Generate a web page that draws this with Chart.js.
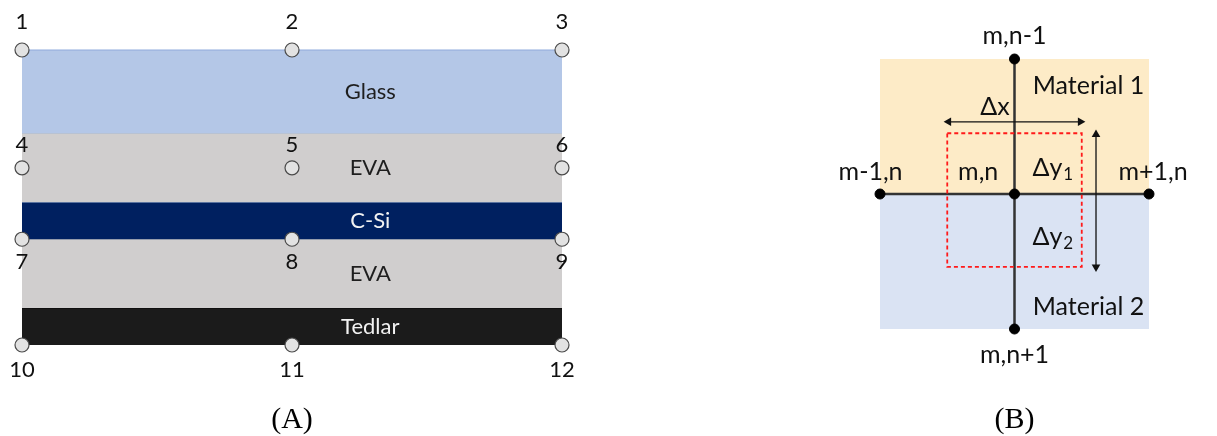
<!DOCTYPE html>
<html>
<head>
<meta charset="utf-8">
<script src="https://cdn.jsdelivr.net/npm/chart.js@4.4.1/dist/chart.umd.min.js"></script>
<style>
  html, body { margin: 0; padding: 0; background: #ffffff; }
  #wrap { position: relative; width: 1217px; height: 436px; overflow: hidden; }
  canvas { position: absolute; top: 0; }
  #panel-a { left: 0; }
  #panel-b { left: 600px; }
</style>
</head>
<body>
<div id="wrap">
  <canvas id="panel-a" width="600" height="436"></canvas>
  <canvas id="panel-b" width="617" height="436"></canvas>
</div>
<script>
// ---- panel A: PV module cross-section, layers stacked from the top ----
const LAYER_NAMES = ["Glass", "EVA", "C-Si", "EVA", "Tedlar"];
const LAYER_THICKNESS = [2.25, 1.85, 1.0, 1.85, 1.0];
const NODE_COLUMNS = [0, 1, 2];
const NODE_DEPTHS = [0, 3.175, 5.1, 7.95];
const LAYER_TEXT_X = 1.29;

// ---- panel B: finite difference stencil around node (m,n) ----
const STENCIL_NODES = [[0, -1], [-1, 0], [0, 0], [1, 0], [0, 1]];
const STENCIL_LABELS = ["m,n-1", "m-1,n", "m,n", "m+1,n", "m,n+1"];
const STENCIL_LABEL_POS = [[0, -1.17], [-1.07, -0.16], [-0.27, -0.16], [1.03, -0.16], [0, 1.19]];
const CELL_X = [-0.5, 0.5];
const CELL_Y = [-0.45, 0.54];
const DX_ARROW = { y: -0.535, x: [-0.49, 0.49] };
const DY_ARROW = { x: 0.606, y: [-0.44, 0.54] };
const MATERIALS = ["Material 1", "Material 2"];
const MATERIAL_LABEL_POS = [[0.55, -0.8], [0.55, 0.84]];

const LAYER_FILL = ["#b4c7e7", "#d0cece", "#002060", "#d0cece", "#1b1b1b"];
const LAYER_EDGE = ["#8faadc", "#bdbdbd", "#2f5597", "#bdbdbd", "#000000"];
const LAYER_TEXT = ["#1e1e1e", "#1e1e1e", "#f2f2f2", "#1e1e1e", "#f2f2f2"];
const SANS = "Lato, 'Open Sans', sans-serif";
const SERIF = "'Liberation Serif', 'DejaVu Serif', serif";

Chart.defaults.animation = false;
Chart.defaults.devicePixelRatio = 1;

// cumulative layer boundaries
const bounds = [0];
LAYER_THICKNESS.forEach(t => bounds.push(+(bounds[bounds.length - 1] + t).toFixed(3)));
const totalDepth = bounds[bounds.length - 1];

// draws text items given in data units, with optional subscript
function textPlugin(id, getItems) {
  return {
    id: id,
    afterDraw(chart) {
      const ctx = chart.ctx;
      const xs = chart.scales.x, ys = chart.scales.y;
      ctx.save();
      ctx.textBaseline = "middle";
      getItems().forEach(it => {
        const px = xs.getPixelForValue(it.x);
        const py = ys.getPixelForValue(it.y) + (it.dy || 0);
        ctx.fillStyle = it.color || "#111111";
        ctx.font = it.font;
        const w = ctx.measureText(it.text).width;
        let sw = 0;
        if (it.sub) {
          ctx.font = it.subFont;
          sw = ctx.measureText(it.sub).width + 1;
        }
        const x0 = px - (w + sw) / 2;
        ctx.font = it.font;
        ctx.textAlign = "left";
        ctx.fillText(it.text, x0, py);
        if (it.sub) {
          ctx.font = it.subFont;
          ctx.fillText(it.sub, x0 + w + 1, py + 6);
        }
      });
      ctx.restore();
    }
  };
}

// ---------- panel A ----------
const layerSets = LAYER_NAMES.map((name, i) => ({
  label: name,
  data: [{ x: 0, y: bounds[i] }, { x: 2, y: bounds[i] }],
  fill: { value: bounds[i + 1] },
  backgroundColor: LAYER_FILL[i],
  borderColor: LAYER_EDGE[i],
  borderWidth: 1,
  pointRadius: 0,
  clip: false,
  order: 2
}));

const nodePoints = [];
NODE_DEPTHS.forEach(d => NODE_COLUMNS.forEach(c => nodePoints.push({ x: c, y: d })));

const nodeSet = {
  label: "nodes",
  data: nodePoints,
  showLine: false,
  pointRadius: 7,
  pointBackgroundColor: "#e2e2e2",
  pointBorderColor: "#4a4a4a",
  pointBorderWidth: 1.2,
  clip: false,
  order: 0
};

// node numbers sit above the first two rows and below the last two
const NODE_LABEL_OFFSET = [-28, -23, 23, 25];

const panelAText = textPlugin("panelAText", () => {
  const items = [];
  nodePoints.forEach((p, k) => {
    const row = Math.floor(k / NODE_COLUMNS.length);
    items.push({ text: String(k + 1), x: p.x, y: p.y, dy: NODE_LABEL_OFFSET[row],
                 font: "22px " + SANS, color: "#111111" });
  });
  LAYER_NAMES.forEach((name, i) => {
    items.push({ text: name, x: LAYER_TEXT_X, y: (bounds[i] + bounds[i + 1]) / 2,
                 font: "22px " + SANS, color: LAYER_TEXT[i] });
  });
  items.push({ text: "(A)", x: 1, y: totalDepth, dy: 75, font: "30px " + SERIF, color: "#000000" });
  return items;
});

new Chart(document.getElementById("panel-a"), {
  type: "line",
  data: { datasets: [nodeSet].concat(layerSets) },
  options: {
    responsive: false,
    layout: { padding: { left: 22, right: 38, top: 50, bottom: 91 } },
    scales: {
      x: { type: "linear", min: 0, max: 2, display: false },
      y: { type: "linear", min: 0, max: totalDepth, reverse: true, display: false }
    },
    plugins: { legend: { display: false }, tooltip: { enabled: false } }
  },
  plugins: [panelAText]
});

// ---------- panel B ----------
const materialSets = [
  { label: MATERIALS[0], data: [{ x: -1, y: -1 }, { x: 1, y: -1 }], fill: { value: 0 },
    backgroundColor: "#fdebc7", borderWidth: 0, pointRadius: 0, order: 5 },
  { label: MATERIALS[1], data: [{ x: -1, y: 0 }, { x: 1, y: 0 }], fill: { value: 1 },
    backgroundColor: "#dae3f3", borderWidth: 0, pointRadius: 0, order: 5 }
];

const gridLines = [
  { label: "vertical", data: [{ x: 0, y: -1 }, { x: 0, y: 1 }] },
  { label: "horizontal", data: [{ x: -1, y: 0 }, { x: 1, y: 0 }] }
].map(s => Object.assign(s, { borderColor: "#333333", borderWidth: 2.5, pointRadius: 0, fill: false, clip: false, order: 3 }));

const cellSet = {
  label: "control volume",
  data: [
    { x: CELL_X[0], y: CELL_Y[0] }, { x: CELL_X[1], y: CELL_Y[0] },
    { x: CELL_X[1], y: CELL_Y[1] }, { x: CELL_X[0], y: CELL_Y[1] },
    { x: CELL_X[0], y: CELL_Y[0] }
  ],
  borderColor: "#ff1a1a",
  borderWidth: 1.8,
  borderDash: [4, 3],
  pointRadius: 0,
  fill: false,
  tension: 0,
  order: 2
};

const arrowStyle = {
  borderColor: "#111111", borderWidth: 1.3, fill: false, clip: false, order: 1,
  pointStyle: "triangle", pointRadius: 5, pointBackgroundColor: "#111111",
  pointBorderColor: "#111111", pointBorderWidth: 0
};
const dxArrow = Object.assign({
  label: "dx",
  data: [{ x: DX_ARROW.x[0], y: DX_ARROW.y }, { x: DX_ARROW.x[1], y: DX_ARROW.y }],
  pointRotation: [-90, 90]
}, arrowStyle);
const dyArrow = Object.assign({
  label: "dy",
  data: [{ x: DY_ARROW.x, y: DY_ARROW.y[0] }, { x: DY_ARROW.x, y: DY_ARROW.y[1] }],
  pointRotation: [0, 180]
}, arrowStyle);

const stencilSet = {
  label: "stencil nodes",
  data: STENCIL_NODES.map(p => ({ x: p[0], y: p[1] })),
  showLine: false,
  pointRadius: 5,
  pointBackgroundColor: "#000000",
  pointBorderColor: "#000000",
  clip: false,
  order: 0
};

const panelBText = textPlugin("panelBText", () => {
  const big = "25px " + SANS;
  const subF = "17px " + SANS;
  const items = [];
  STENCIL_LABELS.forEach((t, i) => items.push({ text: t, x: STENCIL_LABEL_POS[i][0], y: STENCIL_LABEL_POS[i][1], font: big }));
  MATERIALS.forEach((t, i) => items.push({ text: t, x: MATERIAL_LABEL_POS[i][0], y: MATERIAL_LABEL_POS[i][1], font: big }));
  items.push({ text: "\u0394x", x: -0.145, y: -0.645, font: big });
  items.push({ text: "\u0394y", sub: "1", x: 0.285, y: -0.19, font: big, subFont: subF });
  items.push({ text: "\u0394y", sub: "2", x: 0.285, y: 0.32, font: big, subFont: subF });
  items.push({ text: "(B)", x: 0, y: 1, dy: 91, font: "30px " + SERIF, color: "#000000" });
  return items;
});

new Chart(document.getElementById("panel-b"), {
  type: "line",
  data: { datasets: [stencilSet, dxArrow, dyArrow, cellSet].concat(gridLines, materialSets) },
  options: {
    responsive: false,
    layout: { padding: { left: 280, right: 68, top: 59, bottom: 107 } },
    scales: {
      x: { type: "linear", min: -1, max: 1, display: false },
      y: { type: "linear", min: -1, max: 1, reverse: true, display: false }
    },
    plugins: { legend: { display: false }, tooltip: { enabled: false } }
  },
  plugins: [panelBText]
});
</script>
</body>
</html>
